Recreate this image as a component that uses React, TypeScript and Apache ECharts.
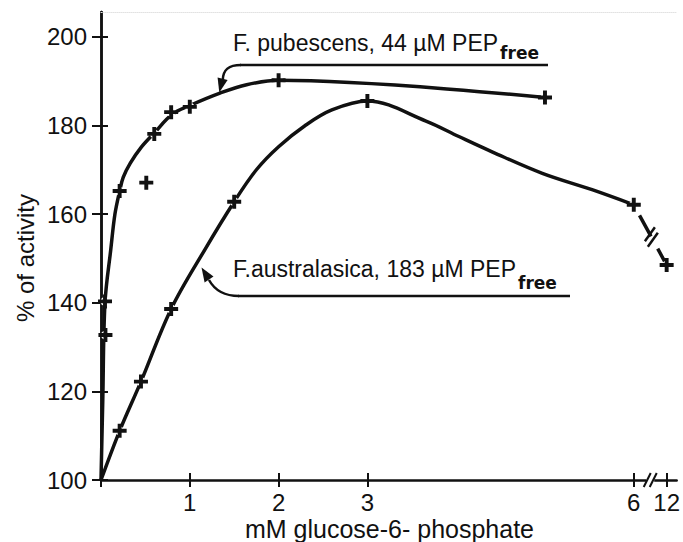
import React, { useEffect, useRef } from "react";
import * as echarts from "echarts";

// ---- data ----
// measured points (+ markers)
const pubPointsX = [0.045, 0.05, 0.21, 0.51, 0.6, 0.79, 1.0, 2.0, 5.0];
const pubPointsY = [140.3, 132.7, 165.2, 167.1, 178.1, 183.0, 184.2, 190.2, 186.3];
const ausPointsX = [0.21, 0.45, 0.79, 1.5, 3.0, 6.0, 12.0];
const ausPointsY = [111.1, 122.2, 138.6, 162.8, 185.5, 162.1, 148.5];

// hand-drawn fitted curves
const pubCurveX = [0, 0.02, 0.045, 0.11, 0.157, 0.21, 0.25, 0.33, 0.45, 0.6, 0.8, 1.0, 1.34, 1.64, 2.0, 5.0];
const pubCurveY = [100, 118, 140, 152, 160, 165.2, 168.3, 171.5, 175, 178.3, 182.5, 184.5, 187.3, 189.2, 190.2, 186.3];
const ausCurveX = [0, 0.21, 0.45, 0.79, 1.17, 1.5, 1.75, 2.0, 2.3, 2.6, 3.0, 3.66, 4.03, 4.41, 4.97, 5.53, 6.0];
const ausCurveY = [100, 111.1, 122.2, 138.6, 152, 162.8, 170, 175.2, 180, 183.5, 185.5, 181, 177.5, 174, 169.2, 165.5, 162.1];
const ausBreakX = [6.0, 12.0];
const ausBreakY = [162.1, 148.5];

const xTickValues = [0, 1, 2, 3, 6, 12];
const xLabelValues = [1, 2, 3, 6, 12];
const yTickValues = [100, 120, 140, 160, 180, 200];

const pubLabel = "F. pubescens, 44 µM PEP";
const ausLabel = "F.australasica, 183 µM PEP";
const subLabel = "free";
const xName = "mM glucose-6- phosphate";
const yName = "% of activity";

// broken x axis: linear up to 6, compressed beyond
const BREAK_AT = 6;
const BREAK_SCALE = 0.0617;
const tX = (x: number) => (x <= BREAK_AT ? x : BREAK_AT + (x - BREAK_AT) * BREAK_SCALE);
const labelOf = (v: number) => {
  const idx = xTickValues.findIndex((t) => Math.abs(tX(t) - v) < 1e-6);
  return idx >= 0 ? String(xTickValues[idx]) : "";
};

const INK = "#111";
const FONT = "'Liberation Sans', Arial, sans-serif";
const PLUS = "path://M3.6,0H6.4V3.6H10V6.4H6.4V10H3.6V6.4H0V3.6H3.6Z";

const zip = (xs: number[], ys: number[]) => xs.map((x, i) => [tX(x), ys[i]]);

export default function App() {
  const ref = useRef<HTMLDivElement>(null);
  useEffect(() => {
    if (!ref.current) return;
    const chart = echarts.init(ref.current, undefined, { renderer: "svg" });
    const xMin = 0, xMax = 6.483, yMin = 100, yMax = 205.6;
    const baseX = { type: "value", min: xMin, max: xMax, splitLine: { show: false } };
    const baseY = { type: "value", min: yMin, max: yMax, interval: 20, splitLine: { show: false } };
    const allPoints = [...zip(pubPointsX, pubPointsY), ...zip(ausPointsX, ausPointsY)];
    chart.setOption({
      animation: false,
      backgroundColor: "#fff",
      grid: { left: 101, right: 5, top: 12, bottom: 62, show: false },
      xAxis: [
        {
          ...baseX,
          position: "bottom",
          axisLine: { show: true, lineStyle: { color: INK, width: 2.5 } },
          axisTick: { show: true, inside: false, length: 7, lineStyle: { color: INK, width: 2 }, customValues: xTickValues.map(tX) },
          axisLabel: {
            show: true, margin: 10, color: INK, fontSize: 24, fontFamily: FONT,
            customValues: xLabelValues.map(tX), formatter: (v: number) => labelOf(v),
          },
        },
        {
          ...baseX,
          position: "bottom",
          axisLine: { show: false },
          axisTick: { show: true, inside: true, length: 7, lineStyle: { color: INK, width: 2 }, customValues: xLabelValues.map(tX) },
          axisLabel: { show: false },
        },
        {
          ...baseX,
          position: "top",
          axisLine: { show: true, lineStyle: { color: "#e2e2e2", width: 1, type: "dotted" } },
          axisTick: { show: false },
          axisLabel: { show: false },
        },
      ],
      yAxis: [
        {
          ...baseY,
          position: "left",
          axisLine: { show: true, lineStyle: { color: INK, width: 2.5 } },
          axisTick: { show: true, inside: false, length: 9, lineStyle: { color: INK, width: 2 }, customValues: yTickValues },
          axisLabel: { show: true, margin: 14, color: INK, fontSize: 24, fontFamily: FONT, customValues: yTickValues },
        },
        {
          ...baseY,
          position: "left",
          axisLine: { show: false },
          axisTick: { show: true, inside: true, length: 7, lineStyle: { color: INK, width: 2 }, customValues: yTickValues },
          axisLabel: { show: false },
        },
        {
          ...baseY,
          position: "right",
          axisLine: { show: true, lineStyle: { color: INK, width: 2.5 } },
          axisTick: { show: false },
          axisLabel: { show: false },
        },
      ],
      series: [
        {
          name: "F. pubescens curve", type: "line", xAxisIndex: 0, yAxisIndex: 0,
          data: zip(pubCurveX, pubCurveY), smooth: 0.35, showSymbol: false,
          lineStyle: { color: INK, width: 3.5 }, z: 2,
        },
        {
          name: "F. australasica curve", type: "line", xAxisIndex: 0, yAxisIndex: 0,
          data: zip(ausCurveX, ausCurveY), smooth: 0.35, showSymbol: false,
          lineStyle: { color: INK, width: 3.5 }, z: 2,
        },
        {
          name: "F. australasica break", type: "line", xAxisIndex: 0, yAxisIndex: 0,
          data: zip(ausBreakX, ausBreakY), showSymbol: false,
          lineStyle: { color: INK, width: 3.5, type: [0, 12, 24, 14, 22, 40] }, z: 2,
        },
        {
          name: "gaps", type: "scatter", xAxisIndex: 0, yAxisIndex: 0,
          data: allPoints, symbol: "circle", symbolSize: 9,
          itemStyle: { color: "#fff", opacity: 1 }, z: 3, silent: true,
        },
        {
          name: "F. pubescens", type: "scatter", xAxisIndex: 0, yAxisIndex: 0,
          data: zip(pubPointsX, pubPointsY), symbol: PLUS, symbolSize: 14,
          itemStyle: { color: INK, opacity: 1 }, z: 4,
        },
        {
          name: "F. australasica", type: "scatter", xAxisIndex: 0, yAxisIndex: 0,
          data: zip(ausPointsX, ausPointsY), symbol: PLUS, symbolSize: 14,
          itemStyle: { color: INK, opacity: 1 }, z: 4,
        },
      ],
    });

    // measure text to place subscripts
    const ctx = document.createElement("canvas").getContext("2d")!;
    ctx.font = "23px 'Liberation Sans'";
    const pubW = ctx.measureText(pubLabel).width;
    const ausW = ctx.measureText(ausLabel).width;

    // break marks on the curve between 6 and 12
    const p6 = chart.convertToPixel({ xAxisIndex: 0, yAxisIndex: 0 }, [tX(ausBreakX[0]), ausBreakY[0]]) as number[];
    const p12 = chart.convertToPixel({ xAxisIndex: 0, yAxisIndex: 0 }, [tX(ausBreakX[1]), ausBreakY[1]]) as number[];
    const dx = p12[0] - p6[0], dy = p12[1] - p6[1];
    const len = Math.hypot(dx, dy);
    const ux = dx / len, uy = dy / len;
    const slash = (d: number) => {
      const cx = p6[0] + ux * d, cy = p6[1] + uy * d;
      return {
        type: "line",
        shape: { x1: cx - 5, y1: cy + 7, x2: cx + 5, y2: cy - 7 },
        style: { stroke: INK, lineWidth: 2.5 },
      };
    };
    // axis break marks between 6 and 12
    const a6 = chart.convertToPixel({ xAxisIndex: 0, yAxisIndex: 0 }, [tX(6), 100]) as number[];
    const a12 = chart.convertToPixel({ xAxisIndex: 0, yAxisIndex: 0 }, [tX(12), 100]) as number[];
    const am = (a6[0] + a12[0]) / 2;
    const axisSlash = (cx: number) => ({
      type: "line",
      shape: { x1: cx - 3.5, y1: a6[1] + 7, x2: cx + 3.5, y2: a6[1] - 7 },
      style: { stroke: INK, lineWidth: 2 },
    });

    const txt = (text: string, x: number, y: number, font: string, extra: any = {}) => ({
      type: "text",
      x, y,
      style: { text, font, fill: INK, align: "left", verticalAlign: "middle", ...extra },
    });

    chart.setOption({
      graphic: [
        { type: "rect", shape: { x: am - 4, y: a6[1] - 2, width: 8, height: 4 }, style: { fill: "#fff" }, z: 10 },
        { ...axisSlash(am - 3), z: 11 },
        { ...axisSlash(am + 3), z: 11 },
        { ...slash(len * 0.49), z: 11 },
        { ...slash(len * 0.58), z: 11 },
        // F. pubescens annotation
        txt(pubLabel, 233, 43, `23px ${FONT}`),
        txt(subLabel, 233 + pubW + 2, 53, `bold 17px 'DejaVu Sans', sans-serif`),
        { type: "line", shape: { x1: 240, y1: 65, x2: 548, y2: 65 }, style: { stroke: INK, lineWidth: 2.5 } },
        {
          type: "bezierCurve",
          shape: { x1: 241, y1: 65, cpx1: 228, cpy1: 65, cpx2: 223, cpy2: 70, x2: 222.8, y2: 80 },
          style: { stroke: INK, lineWidth: 2.5, fill: "none" },
        },
        { type: "polygon", shape: { points: [[219.3, 92.5], [227.6, 80], [217.6, 77.5]] }, style: { fill: INK } },
        // F. australasica annotation
        txt(ausLabel, 233, 268.5, `23px ${FONT}`),
        txt(subLabel, 233 + ausW + 2, 283, `bold 17px 'DejaVu Sans', sans-serif`),
        { type: "line", shape: { x1: 238, y1: 296, x2: 570, y2: 296 }, style: { stroke: INK, lineWidth: 2.5 } },
        {
          type: "bezierCurve",
          shape: { x1: 239, y1: 296, cpx1: 222, cpy1: 296, cpx2: 214, cpy2: 289, x2: 209, y2: 280 },
          style: { stroke: INK, lineWidth: 2.5, fill: "none" },
        },
        { type: "polygon", shape: { points: [[201.5, 267.5], [213.5, 276.5], [204.6, 282.5]] }, style: { fill: INK } },
        // axis titles
        txt(xName, 389.5, 529, `25px ${FONT}`, { align: "center" }),
        { ...txt(yName, 25, 258, `24px ${FONT}`, { align: "center" }), rotation: Math.PI / 2 },
      ],
    });

    return () => chart.dispose();
  }, []);
  return <div ref={ref} style={{ position: "fixed", left: 0, top: 0, width: 683, height: 542 }} />;
}
